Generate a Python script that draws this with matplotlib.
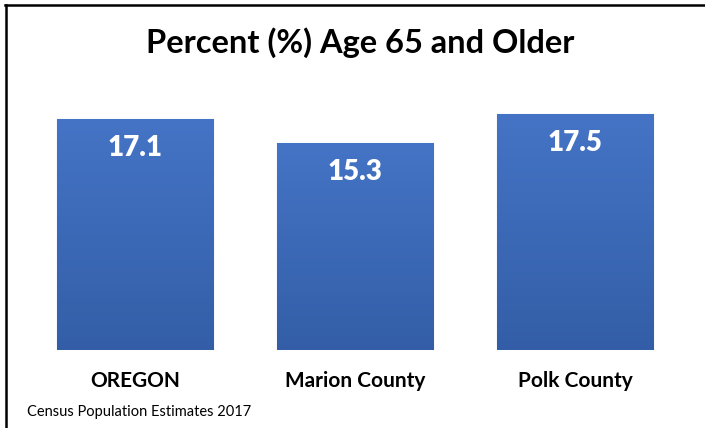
import matplotlib.pyplot as plt
import numpy as np
from matplotlib.lines import Line2D
from matplotlib.colors import LinearSegmentedColormap

# data
categories = ['OREGON', 'Marion County', 'Polk County']
values = [17.1, 15.3, 17.5]

W, H = 705, 428
fig = plt.figure(figsize=(W / 100, H / 100), dpi=100)
fig.patch.set_facecolor('white')

# axes placed so that bars line up with the reference
ax = fig.add_axes([25 / W, (H - 350) / H, 660 / W, 250 / H])

x = np.arange(len(categories))
bars = ax.bar(x, values, width=0.71, color='#3f6bbb', edgecolor='#6a8dce', linewidth=0.8, zorder=2)

# vertical gradient inside each bar
cmap = LinearSegmentedColormap.from_list('grad', ['#335ea7', '#4574c6'])
grad = np.linspace(0, 1, 256).reshape(-1, 1)
for b in bars:
    x0, y0 = b.get_x(), b.get_y()
    im = ax.imshow(grad, cmap=cmap, origin='lower', aspect='auto',
                   extent=[x0, x0 + b.get_width(), y0, y0 + b.get_height()], zorder=2.5)
    im.set_clip_path(b)

ax.set_xlim(-0.5, 2.5)
ax.set_ylim(0, 250 / 13.5)

for xi, v in zip(x, values):
    ax.annotate(f'{v}', (xi, v), xytext=(0, -29), textcoords='offset pixels',
                ha='center', va='center', color='white', fontsize=20,
                fontweight='heavy', family='Lato', zorder=3)

ax.set_xticks(x)
ax.set_xticklabels(categories, fontsize=15, fontweight='bold', family='Lato')
ax.tick_params(axis='x', length=0, pad=15)
ax.set_yticks([])
for s in ax.spines.values():
    s.set_visible(False)
ax.patch.set_alpha(0)

fig.text(360 / W, 1 - 43 / H, 'Percent (%) Age 65 and Older', ha='center', va='center',
         fontsize=23.5, fontweight='bold', family='Lato')
fig.text(27 / W, 1 - 412 / H, 'Census Population Estimates 2017', ha='left', va='center',
         fontsize=10.5, family='Lato')

# frame lines (top and left only)
fig.add_artist(Line2D([5 / W, 1], [1 - 5 / H, 1 - 5 / H], color='black', lw=1.8,
                      transform=fig.transFigure))
fig.add_artist(Line2D([6 / W, 6 / W], [0, 1 - 5 / H], color='black', lw=1.8,
                      transform=fig.transFigure))

fig.savefig('out.png', dpi=100)
